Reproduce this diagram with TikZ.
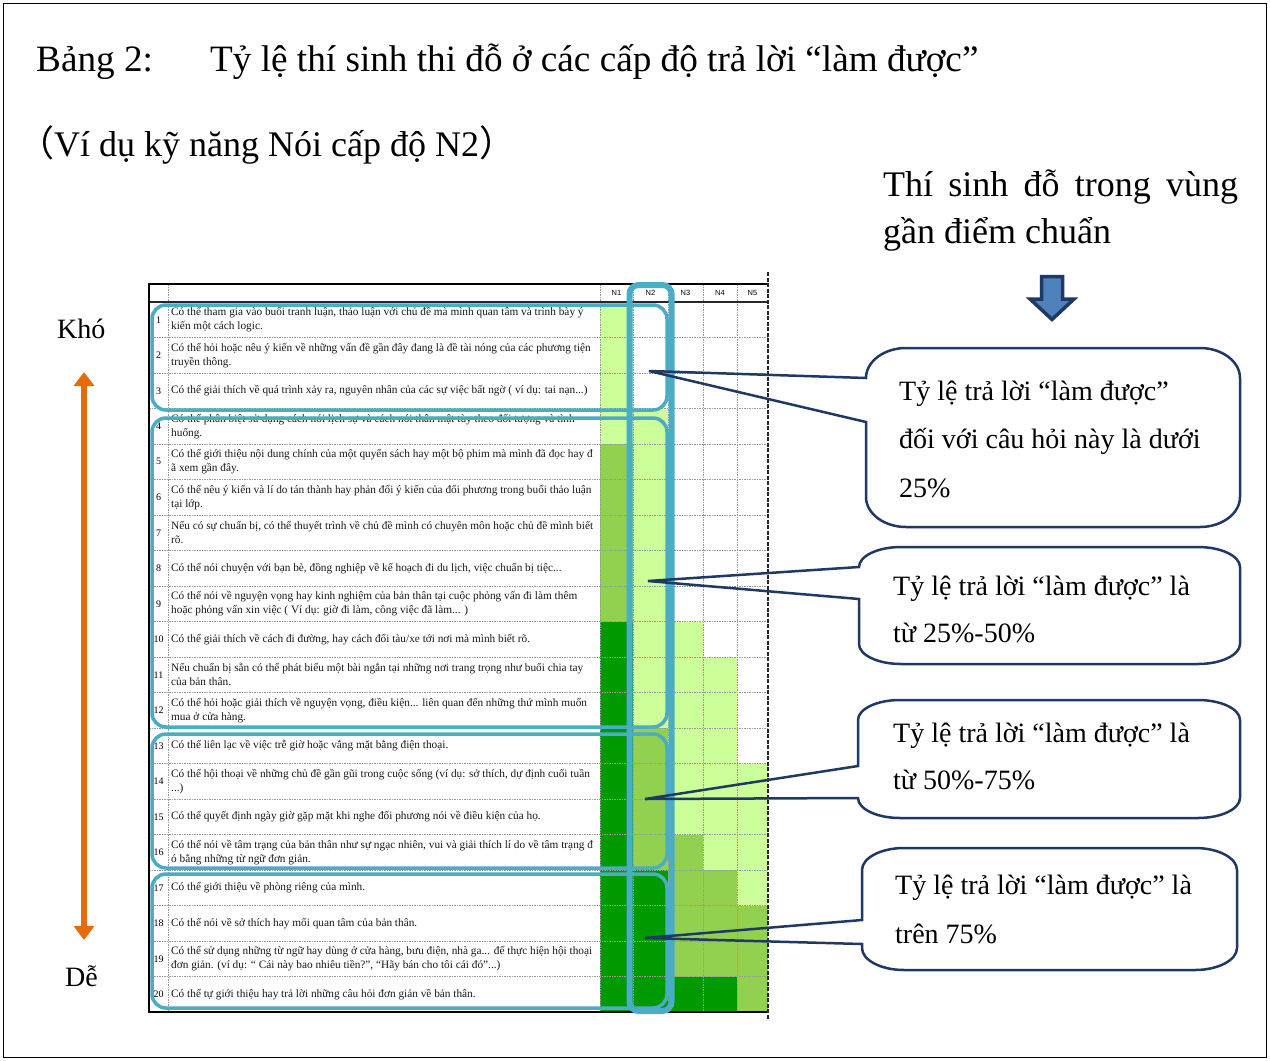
\documentclass[tikz,border=0pt]{standalone}
\usepackage{fontspec}
\setmainfont{Liberation Serif}
\newfontfamily\cjk{Noto Sans CJK JP}
\newfontfamily\hdrfont{Liberation Sans}
\usetikzlibrary{arrows.meta}
\definecolor{lg}{RGB}{204,255,153}
\definecolor{mg}{RGB}{146,208,80}
\definecolor{dg}{RGB}{0,153,0}
\definecolor{hl}{RGB}{75,172,198}
\definecolor{navy}{RGB}{31,56,100}
\definecolor{org}{RGB}{228,108,10}
\definecolor{arrfill}{RGB}{79,129,189}
\tikzset{
  tgrid/.style={draw=black!40, line width=0.7pt, dash pattern=on 1.5pt off 1pt},
  rowtxt/.style={anchor=west, align=left, inner sep=0pt, font=\fontsize{11.3}{13.8}\selectfont, text=black!90},
  rownum/.style={inner sep=0pt, font=\fontsize{10}{11}\selectfont},
  hdr/.style={inner sep=0pt, font=\hdrfont\fontsize{7.5}{8}\selectfont},
  grpbox/.style={draw=hl, line width=3.5pt, rounded corners=14pt},
  colbox/.style={draw=hl, line width=6pt, rounded corners=9pt},
  calltxt/.style={anchor=base west, inner sep=0pt, font=\fontsize{28}{32}\selectfont},
  bigtxt/.style={anchor=base west, inner sep=0pt, font=\fontsize{36}{40}\selectfont},
  ttltxt/.style={anchor=base west, inner sep=0pt, font=\fontsize{37.2}{40}\selectfont},
  sidetxt/.style={anchor=base west, inner sep=0pt, font=\fontsize{28}{32}\selectfont},
  ptr/.style={draw=navy, line width=2.5pt, line join=miter},
}
\newcommand\trow[2]{%
  \node[rownum] (n#1) at (158.5,{302+(#1-0.5)*35.5}) {#1};
  \node[rowtxt] (t#1) at (171,{302+(#1-0.5)*35.5}) {#2};}
\newcommand\cellfill[5]{\fill[#1] (#2,{302+(#4-1)*35.5}) rectangle (#3,{302+#5*35.5});}
% x0 y0 x1 y1 rx ry tip mt mb
\newcommand\mycallout[9]{%
  \draw[ptr] (#7) -- (#1,#8) -- (#1,{#2+#6})
    .. controls (#1,{#2+0.45*#6}) and ({#1+0.45*#5},#2) .. ({#1+#5},#2)
    -- ({#3-#5},#2)
    .. controls ({#3-0.45*#5},#2) and (#3,{#2+0.45*#6}) .. (#3,{#2+#6})
    -- (#3,{#4-#6})
    .. controls (#3,{#4-0.45*#6}) and ({#3-0.45*#5},#4) .. ({#3-#5},#4)
    -- ({#1+#5},#4)
    .. controls ({#1+0.45*#5},#4) and (#1,{#4-0.45*#6}) .. (#1,{#4-#6})
    -- (#1,#9) -- cycle;}
\begin{document}
\begin{tikzpicture}[x=1pt,y=-1pt]
\useasboundingbox (0,0) rectangle (1270,1061);
\fill[white] (0,0) rectangle (1270,1061);
\draw[line width=1.2pt] (3.5,3.5) rectangle (1266.5,1057.5);

% titles
\node[ttltxt] (bang) at (36,71) {Bảng 2:};
\node[ttltxt] (title) at (210,71) {Tỷ lệ thí sinh thi đỗ ở các cấp độ trả lời “làm được”};
\node[bigtxt] (sub) at (18,156) {{\cjk （}Ví dụ kỹ năng Nói cấp độ N2{\cjk ）}};
\node[bigtxt] (rt1) at (883,196) {\makebox[355pt][s]{Thí sinh đỗ trong vùng}};
\node[bigtxt] (rt2) at (883,243) {gần điểm chuẩn};

% blue down arrow
\filldraw[fill=arrfill, draw=navy, line width=3.5pt, line join=miter]
  (1041.5,276.5) -- (1062.5,276.5) -- (1062.5,299) -- (1074,299) -- (1052,319.5) -- (1030,299) -- (1041.5,299) -- cycle;

% side labels and orange arrow
\node[sidetxt] (kho) at (57,338) {Khó};
\node[sidetxt] (de) at (65,986) {Dễ};
\coordinate (a1) at (84,372);
\coordinate (a2) at (84,940);
\draw[org, line width=6pt, {Triangle[length=14pt,width=20pt]}-{Triangle[length=14pt,width=20pt]}] (a1) -- (a2);

% colour cells
\cellfill{lg}{600}{633}{1}{4}
\cellfill{mg}{600}{633}{5}{9}
\cellfill{dg}{600}{633}{10}{20}
\cellfill{lg}{633}{668}{4}{12}
\cellfill{mg}{633}{668}{13}{16}
\cellfill{dg}{633}{668}{17}{20}
\cellfill{lg}{668}{703}{10}{15}
\cellfill{mg}{668}{703}{16}{19}
\cellfill{dg}{668}{703}{20}{20}
\cellfill{lg}{703}{737}{11}{16}
\cellfill{mg}{703}{737}{17}{19}
\cellfill{dg}{703}{737}{20}{20}
\cellfill{lg}{737}{768}{14}{17}
\cellfill{mg}{737}{768}{18}{20}

% grid
\foreach \i in {1,...,19} \draw[tgrid] (149,{302+\i*35.5}) -- (768,{302+\i*35.5});
\foreach \x in {168,600,633,668,703,737} \draw[tgrid] (\x,284) -- (\x,1012);
\draw[line width=1.2pt, black!85] (149,302) -- (768,302);
\draw[line width=1.4pt] (768,284) -- (149,284) -- (149,1012) -- (768,1012);
\draw[line width=1.2pt, black!85, dash pattern=on 4pt off 1.5pt] (768,272) -- (768,1020);

% header
\node[hdr] (h1) at (616.5,293) {N1};
\node[hdr] (h2) at (650.5,293) {N2};
\node[hdr] (h3) at (685.5,293) {N3};
\node[hdr] (h4) at (720,293) {N4};
\node[hdr] (h5) at (752.5,293) {N5};

% rows
\trow{1}{Có thể tham gia vào buổi tranh luận, thảo luận với chủ đề mà mình quan tâm và trình bày ý\\kiến một cách logic.}
\trow{2}{Có thể hỏi hoặc nêu ý kiến về những vấn đề gần đây đang là đề tài nóng của các phương tiện\\truyền thông.}
\trow{3}{Có thể giải thích về quá trình xảy ra, nguyên nhân của các sự việc bất ngờ ( ví dụ: tai nạn...)}
\trow{4}{Có thể phân biệt sử dụng cách nói lịch sự và cách nói thân mật tùy theo đối tượng và tình\\huống.}
\trow{5}{Có thể giới thiệu nội dung chính của một quyển sách hay một bộ phim mà mình đã đọc hay đ\\ã xem gần đây.}
\trow{6}{Có thể nêu ý kiến và lí do tán thành hay phản đối ý kiến của đối phương trong buổi thảo luận\\tại lớp.}
\trow{7}{Nếu có sự chuẩn bị, có thể thuyết trình về chủ đề mình có chuyên môn hoặc chủ đề mình biết\\rõ.}
\trow{8}{Có thể nói chuyện với bạn bè, đồng nghiệp về kế hoạch đi du lịch, việc chuẩn bị tiệc...}
\trow{9}{Có thể nói về nguyện vọng hay kinh nghiệm của bản thân tại cuộc phỏng vấn đi làm thêm\\hoặc phỏng vấn xin việc ( Ví dụ: giờ đi làm, công việc đã làm... )}
\trow{10}{Có thể giải thích về cách đi đường, hay cách đổi tàu/xe tới nơi mà mình biết rõ.}
\trow{11}{Nếu chuẩn bị sẵn có thể phát biểu một bài ngắn tại những nơi trang trọng như buổi chia tay\\của bản thân.}
\trow{12}{Có thể hỏi hoặc giải thích về nguyện vọng, điều kiện... liên quan đến những thứ mình muốn\\mua ở cửa hàng.}
\trow{13}{Có thể liên lạc về việc trễ giờ hoặc vắng mặt bằng điện thoại.}
\trow{14}{Có thể hội thoại về những chủ đề gần gũi trong cuộc sống (ví dụ: sở thích, dự định cuối tuần\\...)}
\trow{15}{Có thể quyết định ngày giờ gặp mặt khi nghe đối phương nói về điều kiện của họ.}
\trow{16}{Có thể nói về tâm trạng của bản thân như sự ngạc nhiên, vui và giải thích lí do về tâm trạng đ\\ó bằng những từ ngữ đơn giản.}
\trow{17}{Có thể giới thiệu về phòng riêng của mình.}
\trow{18}{Có thể nói về sở thích hay mối quan tâm của bản thân.}
\trow{19}{Có thể sử dụng những từ ngữ hay dùng ở cửa hàng, bưu điện, nhà ga... để thực hiện hội thoại\\đơn giản. (ví dụ: “ Cái này bao nhiêu tiền?”, “Hãy bán cho tôi cái đó”...)}
\trow{20}{Có thể tự giới thiệu hay trả lời những câu hỏi đơn giản về bản thân.}

% highlight boxes
\draw[grpbox] (152,305) rectangle (667,410);
\draw[grpbox] (152,418) rectangle (667,727);
\draw[grpbox] (152,734) rectangle (667,868);
\draw[grpbox] (152,874) rectangle (667,1008);
\draw[colbox] (629.5,285) rectangle (671.5,1011);

% callouts
\coordinate (p1) at (649,371);
\coordinate (p2) at (648,581);
\coordinate (p3) at (645,799);
\coordinate (p4) at (645,938);
\mycallout{866}{348}{1240}{527}{40}{30}{p1}{378}{422}
\mycallout{859}{547}{1240}{664}{42}{20}{p2}{567}{599}
\mycallout{858}{700}{1240}{818}{42}{20}{p3}{766}{798}
\mycallout{862}{848}{1237}{970}{42}{22}{p4}{920}{944}

\node[calltxt] (c1a) at (899,400) {Tỷ lệ trả lời “làm được”};
\node[calltxt] (c1b) at (899,448) {đối với câu hỏi này là dưới};
\node[calltxt] (c1c) at (899,497) {25\%};
\node[calltxt] (c2a) at (893,595) {Tỷ lệ trả lời “làm được” là};
\node[calltxt] (c2b) at (893,642) {từ 25\%-50\%};
\node[calltxt] (c3a) at (893,742) {Tỷ lệ trả lời “làm được” là};
\node[calltxt] (c3b) at (893,789) {từ 50\%-75\%};
\node[calltxt] (c4a) at (895,894) {Tỷ lệ trả lời “làm được” là};
\node[calltxt] (c4b) at (895,943) {trên 75\%};
\end{tikzpicture}
\end{document}
